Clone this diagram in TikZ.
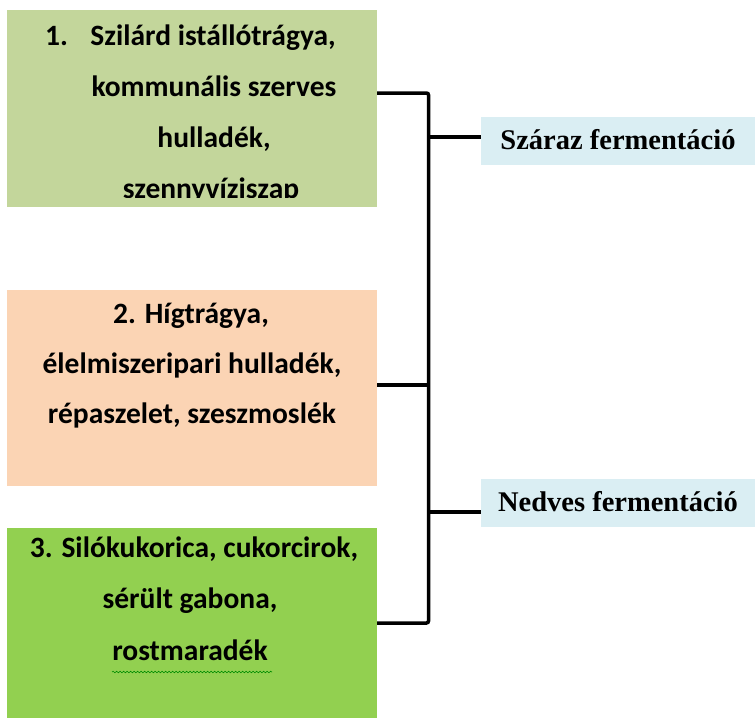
\documentclass[tikz,border=0pt]{standalone}
\usepackage{fontspec}
\setmainfont{Liberation Serif}
\newfontfamily\calfont{Carlito}
\usetikzlibrary{decorations.pathmorphing}
\definecolor{boxA}{HTML}{C3D69B}
\definecolor{boxB}{HTML}{FBD4B4}
\definecolor{boxC}{HTML}{92D050}
\definecolor{lab}{HTML}{DAEEF3}
\tikzset{
  srcbox/.style={rectangle, inner sep=0pt, draw=none, minimum width=370pt},
  boxtxt/.style={anchor=base, inner sep=0pt, font=\calfont\bfseries\fontsize{29.5}{36}\selectfont},
  labbox/.style={rectangle, fill=lab, inner sep=0pt, minimum width=274pt, minimum height=48pt,
     text height=22pt, text depth=6pt, font=\bfseries\fontsize{28.5}{34}\selectfont},
  conn/.style={draw=black, line width=3.5pt, rounded corners=2pt}
}
\begin{document}
\begin{tikzpicture}[x=1pt,y=-1pt]
\useasboundingbox (0,0) rectangle (755,718);
% source boxes
\node[srcbox, fill=boxA, minimum height=197pt] (b1) at (192,108.5) {};
\node[srcbox, fill=boxB, minimum height=196pt] (b2) at (192,388) {};
\node[srcbox, fill=boxC, minimum height=190pt] (b3) at (192,623) {};
% box 1 text (clipped at the bottom)
\begin{scope}
\clip (7,10) rectangle (377,197.5);
\node[boxtxt, anchor=base west] (t1n) at (45,45) {1.};
\node[boxtxt] (t1a) at (213,45) {Szilárd istállótrágya,};
\node[boxtxt] (t1b) at (214,96) {kommunális szerves};
\node[boxtxt] (t1c) at (214,147) {hulladék,};
\node[boxtxt] (t1d) at (211,198.5) {szennyvíziszap};
\end{scope}
% box 2 text
\node[boxtxt] (t2a) at (191,323) {2. Hígtrágya,};
\node[boxtxt] (t2b) at (192,373) {élelmiszeripari hulladék,};
\node[boxtxt] (t2c) at (192,423) {répaszelet, szeszmoslék};
% box 3 text
\node[boxtxt] (t3a) at (194,557) {3. Silókukorica, cukorcirok,};
\node[boxtxt] (t3b) at (190,608) {sérült gabona,};
\node[boxtxt] (t3c) at (190,660) {rostmaradék};
\draw[green!55!black, line width=0.6pt, decorate,
  decoration={snake, amplitude=0.8pt, segment length=3.5pt}]
  (t3c.base west) ++(0,12) -- ++(160,0);
% labels
\node[labbox] (l1) at (618,141) {Száraz fermentáció};
\node[labbox] (l2) at (618,503) {Nedves fermentáció};
% junction coordinates
\coordinate (jT) at (428.5,93);
\coordinate (jM) at (428.5,385);
\coordinate (jB) at (428.5,623);
\coordinate (jS) at (428.5,137);
\coordinate (jN) at (428.5,512);
% connectors
\draw[conn] (b1.east |- jT) -- (jT) -- (jB) -- (b3.east |- jB);
\draw[conn] (b2.east |- jM) -- (jM);
\draw[conn] (jS) -- (l1.west |- jS);
\draw[conn] (jN) -- (l2.west |- jN);
\end{tikzpicture}
\end{document}
